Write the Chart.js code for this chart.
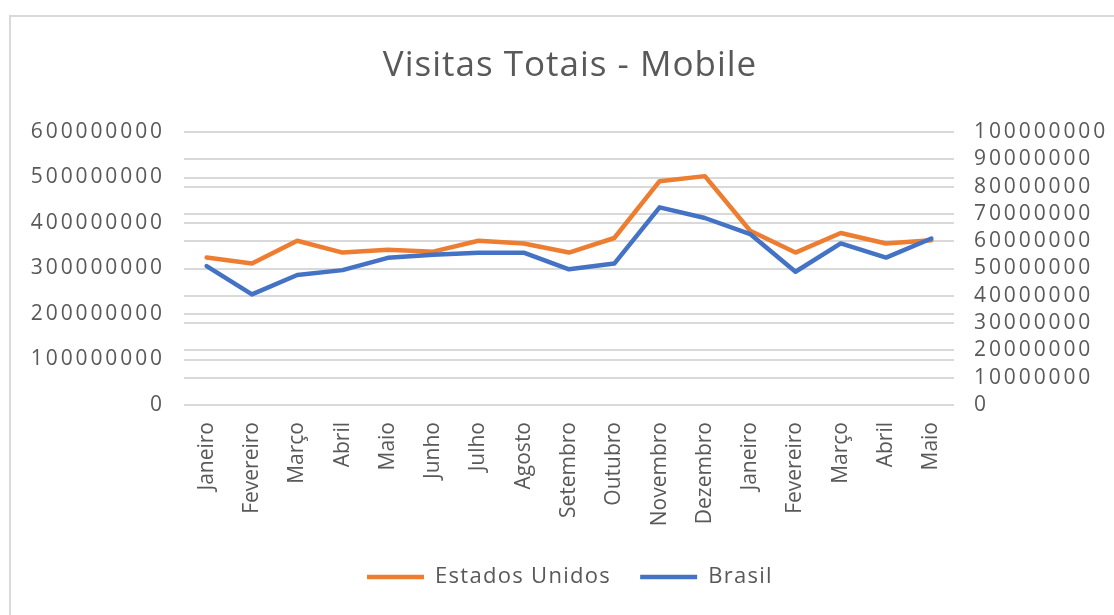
<!DOCTYPE html>
<html>
<head>
<meta charset="utf-8">
<script src="https://cdn.jsdelivr.net/npm/chart.js@4"></script>
<style>
  body { margin: 0; background: #fff; }
  #frame { position: absolute; left: 9px; top: 15px; width: 1200px; height: 700px;
           border-left: 2px solid #d9d9d9; border-top: 2px solid #d9d9d9; }
  #chart { position: absolute; left: 0; top: 0; }
</style>
</head>
<body>
<div id="frame"></div>
<canvas id="chart" width="1114" height="615"></canvas>
<script>
// meses (dois anos seguidos, por isso Janeiro..Maio repetem)
const months = ['Janeiro', 'Fevereiro', 'Março', 'Abril', 'Maio', 'Junho', 'Julho', 'Agosto',
  'Setembro', 'Outubro', 'Novembro', 'Dezembro', 'Janeiro', 'Fevereiro', 'Março', 'Abril', 'Maio'];

// eixo principal (esquerda)
const estadosUnidos = [324000000, 311000000, 361000000, 335000000, 341000000, 337000000,
  361000000, 355000000, 335000000, 367000000, 492000000, 503000000, 383000000, 335000000,
  378000000, 355000000, 362000000];

// eixo secundário (direita)
const brasil = [50900000, 40500000, 47600000, 49400000, 53900000, 55000000, 55800000,
  55800000, 49700000, 51800000, 72400000, 68500000, 62600000, 48800000, 59200000,
  54000000, 61000000];

const leftTicks = { min: 0, max: 600000000, step: 100000000 };
const rightTicks = { min: 0, max: 100000000, step: 10000000 };

const textColor = '#595959';
const gridColor = '#d9d9d9';
const font = "'Open Sans', sans-serif";

// espaçamento entre letras (o Excel desenha o texto mais largo)
const spacing = { y: '2.9px', y1: '2.9px', x: '0px', title: '1px', legend: '1.3px' };

function withSpacing(obj, method, key) {
  const orig = obj[method];
  obj[method] = function (...args) {
    const ctx = this.ctx;
    const prev = ctx.letterSpacing;
    ctx.letterSpacing = spacing[key];
    const r = orig.apply(this, args);
    ctx.letterSpacing = prev;
    return r;
  };
}

const spacingPlugin = {
  id: 'spacing',
  afterInit(chart) {
    if (chart.titleBlock) withSpacing(chart.titleBlock, 'draw', 'title');
    if (chart.legend) {
      withSpacing(chart.legend, 'fit', 'legend');
      withSpacing(chart.legend, 'draw', 'legend');
    }
  },
  afterUpdate(chart) {
    Object.values(chart.scales).forEach(scale => {
      if (scale._spaced) return;
      withSpacing(scale, 'drawLabels', scale.id);
      scale._spaced = true;
    });
  }
};

new Chart(document.getElementById('chart'), {
  type: 'line',
  data: {
    labels: months,
    datasets: [
      {
        label: 'Estados Unidos',
        data: estadosUnidos,
        yAxisID: 'y',
        borderColor: '#ED7D31',
        backgroundColor: '#ED7D31',
        borderWidth: 4.5,
        borderCapStyle: 'round',
        borderJoinStyle: 'round',
        pointRadius: 0,
        tension: 0,
        order: 1
      },
      {
        label: 'Brasil',
        data: brasil,
        yAxisID: 'y1',
        borderColor: '#4472C4',
        backgroundColor: '#4472C4',
        borderWidth: 4.5,
        borderCapStyle: 'round',
        borderJoinStyle: 'round',
        pointRadius: 0,
        tension: 0,
        order: 0
      }
    ]
  },
  options: {
    responsive: false,
    animation: false,
    devicePixelRatio: 1,
    layout: { padding: { left: 26, right: 0, top: 0, bottom: 17 } },
    plugins: {
      title: {
        display: true,
        text: 'Visitas Totais - Mobile',
        color: textColor,
        font: { family: font, size: 35, weight: 'normal' },
        padding: { top: 45, bottom: 45 }
      },
      legend: {
        position: 'bottom',
        labels: {
          color: textColor,
          font: { family: font, size: 22 },
          usePointStyle: true,
          pointStyle: 'line',
          pointStyleWidth: 57,
          padding: 29,
          sort: (a, b) => a.datasetIndex - b.datasetIndex
        }
      },
      tooltip: { enabled: false }
    },
    scales: {
      x: {
        offset: true,
        grid: { display: false, drawTicks: false },
        border: { display: false },
        ticks: {
          color: textColor,
          font: { family: font, size: 21 },
          minRotation: 90,
          maxRotation: 90,
          autoSkip: false,
          padding: 17
        },
        afterFit: s => { s.height = 132; }
      },
      y: {
        position: 'left',
        min: leftTicks.min,
        max: leftTicks.max,
        grid: { color: gridColor, lineWidth: 2, drawTicks: false },
        border: { display: false },
        ticks: {
          stepSize: leftTicks.step,
          autoSkip: false,
          color: textColor,
          font: { family: font, size: 21 },
          padding: 19,
          callback: v => String(v)
        },
        afterFit: s => { s.width = 158; }
      },
      y1: {
        position: 'right',
        min: rightTicks.min,
        max: rightTicks.max,
        grid: { color: gridColor, lineWidth: 2, drawTicks: false },
        border: { display: false },
        ticks: {
          stepSize: rightTicks.step,
          autoSkip: false,
          color: textColor,
          font: { family: font, size: 21 },
          padding: 20,
          callback: v => String(v)
        },
        afterFit: s => { s.width = 160; }
      }
    }
  },
  plugins: [spacingPlugin]
});
</script>
</body>
</html>
